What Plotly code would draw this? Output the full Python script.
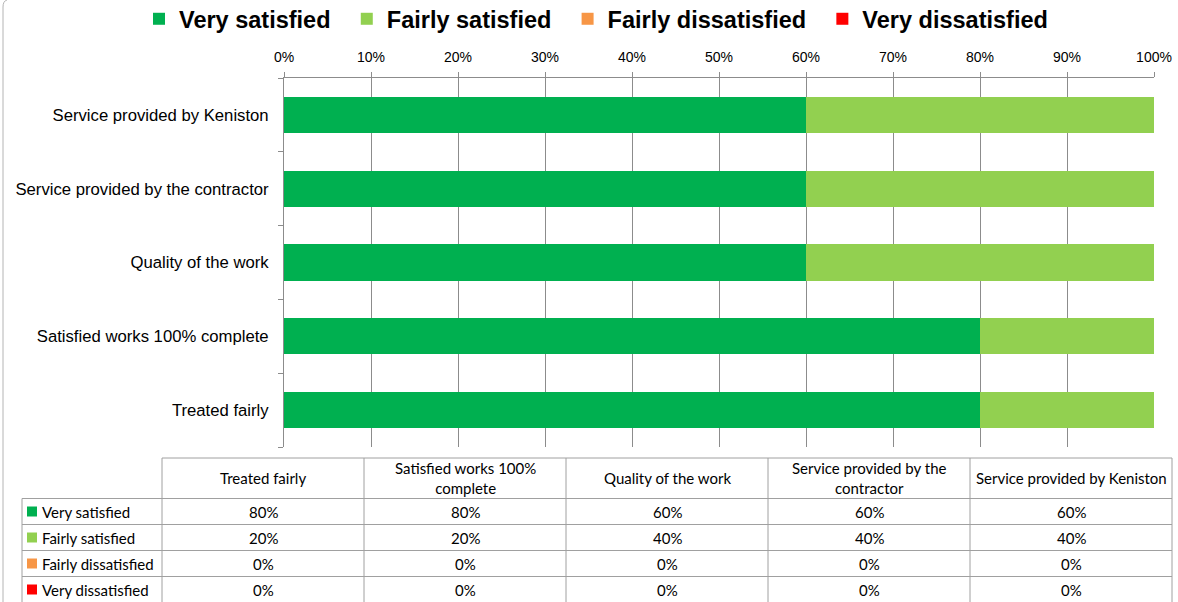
import plotly.graph_objects as go

W, H = 1178, 602

categories = ["Treated fairly", "Satisfied works 100% complete", "Quality of the work",
              "Service provided by the contractor", "Service provided by Keniston"]
table_headers = [["Treated fairly"], ["Satisfied works 100%", "complete"], ["Quality of the work"],
                 ["Service provided by the", "contractor"], ["Service provided by Keniston"]]
series_names = ["Very satisfied", "Fairly satisfied", "Fairly dissatisfied", "Very dissatisfied"]
very_satisfied = [0.8, 0.8, 0.6, 0.6, 0.6]
fairly_satisfied = [0.2, 0.2, 0.4, 0.4, 0.4]
fairly_dissatisfied = [0, 0, 0, 0, 0]
very_dissatisfied = [0, 0, 0, 0, 0]
series_values = [very_satisfied, fairly_satisfied, fairly_dissatisfied, very_dissatisfied]
colors = ["#00B050", "#92D050", "#F79646", "#FF0000"]
x_ticks = [0, 0.1, 0.2, 0.3, 0.4, 0.5, 0.6, 0.7, 0.8, 0.9, 1.0]


def px_x(v):
    return v / W


def px_y(v):
    return 1 - v / H


LEGEND_PAD = "\u00a0\u2009"
fig = go.Figure()
for name, vals, col in zip(series_names, series_values, colors):
    fig.add_trace(go.Bar(
        y=categories, x=vals, name=f"<b>{name}</b>{LEGEND_PAD}", orientation="h",
        marker=dict(color=col, line=dict(width=0)),
        hovertemplate=name + ": %{x:.0%}<extra>%{y}</extra>",
    ))

grid_col = "#8C8C8C"
table_line = "#A0A0A0"
table_font = dict(family="Lato, Open Sans, sans-serif", size=15, color="#000000")

# ---- data table drawn with shapes + annotations (layout computed from the arrays) ----
tbl_left, tbl_right = 162, 1172
key_left = 22
head_top, head_h, row_h = 458, 40.5, 26
n_cols = len(categories)
n_rows = len(series_names)
col_w = (tbl_right - tbl_left) / n_cols
rows_top = head_top + head_h
bottom = rows_top + n_rows * row_h

shapes = []
ann = []


def hline(x0, x1, y):
    shapes.append(dict(type="line", xref="paper", yref="paper",
                       x0=px_x(x0), x1=px_x(x1), y0=px_y(y), y1=px_y(y),
                       line=dict(color=table_line, width=1)))


def vline(x, y0, y1):
    shapes.append(dict(type="line", xref="paper", yref="paper",
                       x0=px_x(x), x1=px_x(x), y0=px_y(y0), y1=px_y(y1),
                       line=dict(color=table_line, width=1)))


hline(tbl_left, tbl_right, head_top)
for r in range(n_rows + 1):
    hline(key_left, tbl_right, rows_top + r * row_h)
for c in range(n_cols + 1):
    vline(tbl_left + c * col_w, head_top, bottom)
vline(key_left, rows_top, bottom)

for c, lines in enumerate(table_headers):
    cx = tbl_left + (c + 0.5) * col_w
    ann.append(dict(xref="paper", yref="paper", x=px_x(cx), y=px_y(head_top + head_h / 2),
                    text="<br>".join(lines), showarrow=False, xanchor="center", yanchor="middle",
                    font=table_font, align="center"))
    for r in range(n_rows):
        cy = rows_top + (r + 0.5) * row_h
        ann.append(dict(xref="paper", yref="paper", x=px_x(cx), y=px_y(cy),
                        text=f"{int(round(series_values[r][c] * 100))}%", showarrow=False,
                        xanchor="center", yanchor="middle", font=table_font))

for r, (name, col) in enumerate(zip(series_names, colors)):
    cy = rows_top + (r + 0.5) * row_h
    shapes.append(dict(type="rect", xref="paper", yref="paper",
                       x0=px_x(key_left + 5), x1=px_x(key_left + 15),
                       y0=px_y(cy - 5), y1=px_y(cy + 5),
                       fillcolor=col, line=dict(width=0)))
    ann.append(dict(xref="paper", yref="paper", x=px_x(key_left + 18), y=px_y(cy),
                    text=name, showarrow=False, xanchor="left", yanchor="middle",
                    font=table_font))

# Chart-area border (left edge with rounded corner, cropped in the reference)
shapes.append(dict(type="path", xref="paper", yref="paper",
                   path=f"M {px_x(3)},{px_y(602)} L {px_x(3)},{px_y(7)} Q {px_x(3)},{px_y(1)} {px_x(7)},{px_y(0)}",
                   line=dict(color="#B4B4B4", width=1)))

fig.update_layout(
    width=W, height=H, autosize=False,
    margin=dict(l=0, r=0, t=0, b=0, pad=0, autoexpand=False),
    paper_bgcolor="white", plot_bgcolor="white",
    barmode="stack", bargap=0.51,
    font=dict(family="Arial, Liberation Sans, sans-serif", color="#000000"),
    showlegend=True,
    legend=dict(orientation="h", x=px_x(139), xanchor="left", y=px_y(19), yanchor="middle",
                font=dict(family="Arial, Liberation Sans, sans-serif", size=23.5, color="#000000"),
                bgcolor="rgba(0,0,0,0)", borderwidth=0,
                traceorder="normal", itemclick=False, itemdoubleclick=False),
    xaxis=dict(domain=[px_x(284), px_x(1154)], range=[0, 1], side="top",
               tickvals=x_ticks, ticktext=[f"{int(round(v * 100))}%" for v in x_ticks],
               tickfont=dict(size=14, family="Arial, Liberation Sans, sans-serif"),
               showgrid=True, gridcolor=grid_col, gridwidth=1,
               showline=True, linecolor=grid_col, linewidth=1,
               ticks="outside", ticklen=5, tickcolor=grid_col, ticklabelstandoff=4,
               zeroline=False, fixedrange=True, anchor="y", automargin=False),
    yaxis=dict(domain=[px_y(447), px_y(78)], type="category",
               categoryorder="array", categoryarray=categories,
               tickfont=dict(size=16.7, family="Arial, Liberation Sans, sans-serif"),
               showgrid=False, showline=True, linecolor=grid_col, linewidth=1,
               ticks="outside", ticklen=5, tickcolor=grid_col, tickson="boundaries",
               ticklabelstandoff=11, fixedrange=True, anchor="x", automargin=False),
    shapes=shapes,
    annotations=ann,
)

fig.write_html("out.html", config={"responsive": False, "displayModeBar": False},
               post_script="document.body.style.margin='0px';document.body.style.overflow='hidden';")
